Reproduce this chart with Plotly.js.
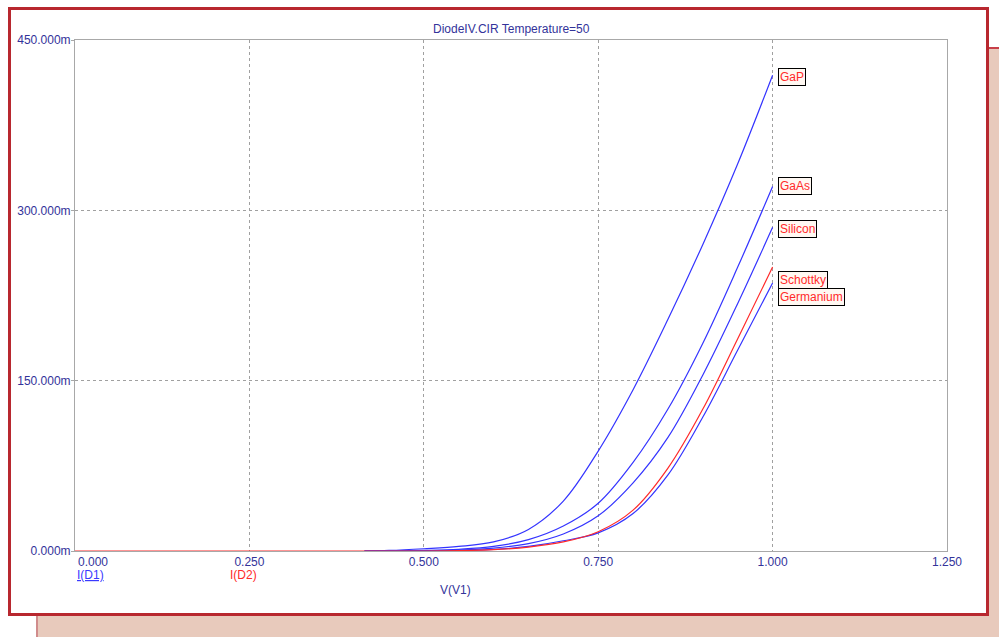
<!DOCTYPE html>
<html>
<head>
<meta charset="utf-8">
<script src="https://cdn.plot.ly/plotly-3.0.1.min.js"></script>
<style>
  html, body { margin: 0; padding: 0; background: #ffffff; width: 999px; height: 637px; overflow: hidden; }
  #back { position: absolute; left: 36px; top: 47px; width: 980px; height: 620px; background: #E8CABC; border-left: 2px solid #D08C8C; border-top: 2px solid #C8404A; }
  #frame { position: absolute; left: 8px; top: 7px; width: 975px; height: 603px; background: #ffffff; border: 3px solid #B8282F; }
  #chart { position: absolute; left: 0; top: 0; width: 999px; height: 637px; }
</style>
</head>
<body>
<div id="back"></div>
<div id="frame"></div>
<div id="chart"></div>
<script>
// ---- data (currents in mA) ----
const vD1 = [0.415, 0.45, 0.5, 0.55, 0.6, 0.65, 0.7, 0.75, 0.8, 0.85, 0.9, 0.95, 1.0];
const iGaP       = [0, 0.5, 2, 4, 8, 19, 44, 88, 142, 204, 270, 341, 419];
const iGaAs      = [0, 0.1, 0.5, 1.5, 4, 10, 22, 42, 78, 125, 183, 250, 321];
const iSilicon   = [0, 0.1, 0.2, 0.8, 2.5, 6.5, 15, 31, 60, 100, 155, 218, 285];
const iGermanium = [0, 0, 0.1, 0.4, 1.3, 4, 9, 16, 33, 67, 118, 177, 236];
const vD2 = [0, 0.5, 0.55, 0.6, 0.65, 0.7, 0.75, 0.8, 0.85, 0.9, 0.95, 1.0];
const iSchottky  = [0, 0, 0.3, 1.2, 3.5, 8, 17, 36, 73, 125, 187, 250];

const xTickVals = [0, 0.25, 0.5, 0.75, 1.0, 1.25];
const xTickText = ["", "0.250", "0.500", "0.750", "1.000", "1.250"];
const xFirstTick = "0.000";
const yTickVals = [0, 150, 300, 450];
const yTickText = ["0.000m", "150.000m", "300.000m", "450.000m"];

const curveNames = ["GaP", "GaAs", "Silicon", "Germanium"];
const curveData  = [iGaP, iGaAs, iSilicon, iGermanium];
const labelShift = {GaP: -2, GaAs: 0, Silicon: -2, Schottky: -13, Germanium: -14};

const blue = "#3434FF";
const red = "#FF2A2A";
const navy = "#33339A";
const fontFam = "Arial, 'Liberation Sans', sans-serif";

const traces = [];
curveNames.forEach((n, k) => {
  traces.push({x: vD1, y: curveData[k], type: "scatter", mode: "lines", name: n,
    line: {color: blue, width: 1.2, shape: "spline", smoothing: 1.0}, hoverinfo: "skip"});
});
traces.push({x: vD2, y: iSchottky, type: "scatter", mode: "lines", name: "Schottky",
  line: {color: red, width: 1.2, shape: "spline", smoothing: 1.0}, hoverinfo: "skip"});

const annotations = [];
const labelOrder = [["GaP", iGaP], ["GaAs", iGaAs], ["Silicon", iSilicon], ["Schottky", iSchottky], ["Germanium", iGermanium]];
labelOrder.forEach(([n, arr]) => {
  annotations.push({x: 1.0, y: arr[arr.length - 1], xref: "x", yref: "y", text: n, showarrow: false,
    xanchor: "left", yanchor: "middle", xshift: 5, yshift: labelShift[n],
    font: {family: fontFam, size: 12, color: red}, bgcolor: "#FFF8F2", bordercolor: "#000000",
    borderwidth: 1, borderpad: 1});
});
annotations.push({x: xTickVals[0], y: 0, xref: "x", yref: "paper", text: xFirstTick, showarrow: false,
  xanchor: "left", yanchor: "top", xshift: 1, yshift: -2, font: {family: fontFam, size: 12, color: navy}});
annotations.push({xref: "paper", yref: "paper", x: 0.5, y: 1, yanchor: "bottom", yshift: 2, showarrow: false,
  text: "DiodeIV.CIR Temperature=50", font: {family: fontFam, size: 12, color: navy}});
annotations.push({xref: "paper", yref: "paper", x: 0, y: 0, xanchor: "left", yanchor: "middle", yshift: -24, showarrow: false,
  text: "<u>I(D1)</u>", font: {family: fontFam, size: 12, color: "#3A3AFF"}});
annotations.push({xref: "paper", yref: "paper", x: 0.1755, y: 0, xanchor: "left", yanchor: "middle", yshift: -24, showarrow: false,
  text: "I(D2)", font: {family: fontFam, size: 12, color: red}});
annotations.push({xref: "paper", yref: "paper", x: 0.4358, y: 0, xanchor: "center", yanchor: "middle", yshift: -39, showarrow: false,
  text: "V(V1)", font: {family: fontFam, size: 12, color: navy}});

const layout = {
  width: 999, height: 637,
  margin: {l: 75, r: 52, t: 40, b: 86, pad: 0},
  paper_bgcolor: "rgba(0,0,0,0)",
  plot_bgcolor: "#ffffff",
  showlegend: false,
  font: {family: fontFam, size: 12, color: navy},
  xaxis: {range: [0, 1.25], tickvals: xTickVals, ticktext: xTickText, showgrid: true,
    gridcolor: "#A0A0A0", griddash: "3px,3px", gridwidth: 1, zeroline: false,
    showline: true, linecolor: "#A8A8A8", linewidth: 1, mirror: true, ticks: "",
    tickfont: {family: fontFam, size: 12, color: navy}, fixedrange: true},
  yaxis: {range: [0, 450], tickvals: yTickVals, ticktext: yTickText, showgrid: true,
    gridcolor: "#A0A0A0", griddash: "3px,3px", gridwidth: 1, zeroline: false,
    showline: true, linecolor: "#A8A8A8", linewidth: 1, mirror: true, ticks: "outside",
    ticklen: 3, tickcolor: "#A8A8A8", ticklabelstandoff: -2,
    tickfont: {family: fontFam, size: 12, color: navy}, fixedrange: true},
  annotations: annotations
};

Plotly.newPlot("chart", traces, layout, {displayModeBar: false, staticPlot: true});
</script>
</body>
</html>
